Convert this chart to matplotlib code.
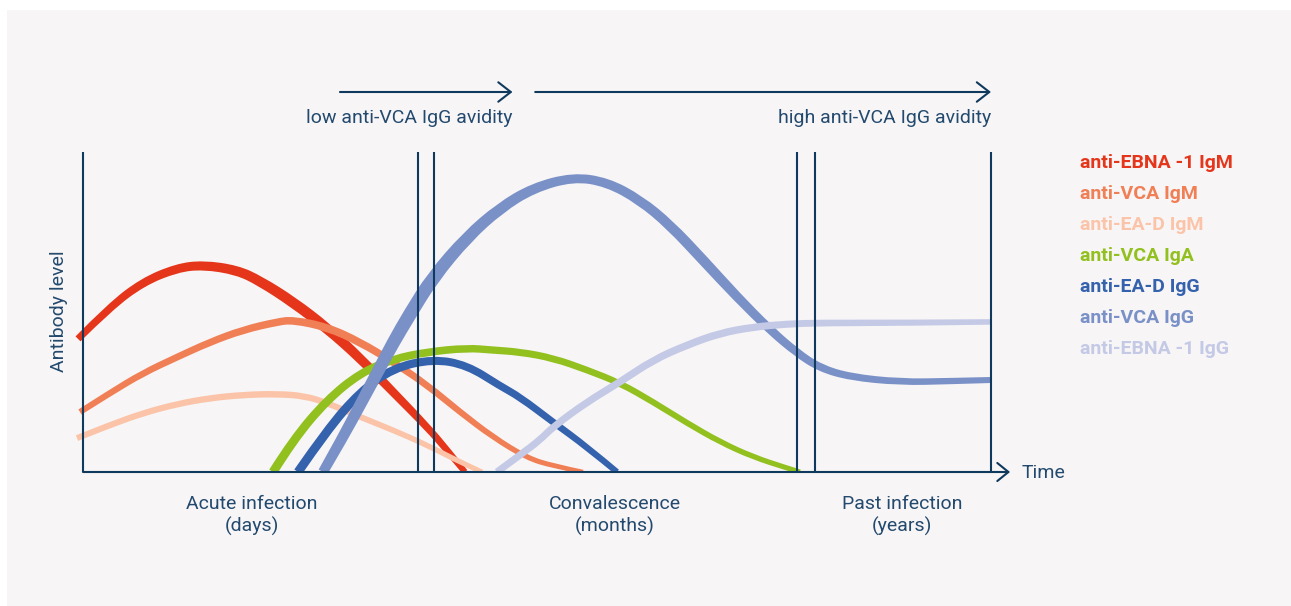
"""
EBV antibody kinetics chart (antibody level vs. time through infection phases)
"""

import numpy as np
import matplotlib
matplotlib.use("Agg")
import matplotlib.pyplot as plt
from matplotlib.patches import Rectangle, FancyArrowPatch, PathPatch
from matplotlib.path import Path

plt.rcParams['font.family'] = ['Roboto', 'DejaVu Sans']

# ---- data (time in arbitrary units 0..100, level 0..100) ----
series_names = ['anti-EBNA -1 IgM', 'anti-VCA IgM', 'anti-EA-D IgM', 'anti-VCA IgA',
                'anti-EA-D IgG', 'anti-VCA IgG', 'anti-EBNA -1 IgG']

ebna_igm_t = [-0.55, 2.97, 6.61, 10.35, 13.22, 16.96, 19.49, 23.13, 26.87, 30.51, 34.14, 37.89, 40.09, 42.07]
ebna_igm_v = [41.6, 51.6, 59.4, 63.75, 64.7, 63.1, 59.7, 53.1, 45.0, 35.6, 25.0, 14.1, 6.9, 0.0]

vca_igm_t = [-0.33, 2.97, 6.61, 10.35, 13.99, 17.62, 21.37, 23.13, 26.87, 30.51, 34.14, 37.89, 41.52, 45.15, 48.90, 51.76, 55.07]
vca_igm_v = [18.75, 24.7, 30.9, 35.9, 40.6, 44.4, 46.9, 47.5, 45.3, 40.6, 34.4, 27.2, 18.75, 10.9, 4.4, 1.9, 0.0]

ead_igm_t = [-0.66, 2.97, 6.61, 10.35, 13.99, 17.62, 21.37, 24.45, 26.87, 30.51, 34.14, 37.89, 41.52, 43.94]
ead_igm_v = [10.6, 14.7, 18.4, 21.25, 23.1, 24.1, 24.4, 23.75, 21.6, 17.2, 13.1, 8.4, 3.1, 0.0]

vca_iga_t = [20.93, 23.13, 26.87, 30.51, 34.14, 37.89, 42.29, 45.15, 48.13, 51.76, 55.51, 59.14, 62.78, 66.52, 70.15, 73.79, 77.53, 78.96]
vca_iga_v = [0.0, 10.0, 22.5, 30.9, 35.3, 37.5, 38.75, 38.1, 37.5, 35.6, 31.9, 27.8, 21.9, 15.3, 9.4, 4.7, 1.25, 0.0]

ead_igg_t = [23.68, 26.87, 30.51, 34.14, 38.55, 42.29, 45.93, 48.13, 51.76, 55.51, 58.81]
ead_igg_v = [0.0, 13.1, 25.0, 32.5, 35.3, 33.4, 26.9, 23.4, 15.6, 7.8, 0.0]

vca_igg_t = [26.43, 28.63, 30.51, 32.38, 34.14, 36.01, 38.55, 42.29, 45.93, 49.56, 53.96, 57.71,
             61.34, 64.65, 68.28, 72.03, 75.66, 78.63, 81.17, 84.47, 89.98, 95.48, 100.0]
vca_igg_v = [0.0, 10.9, 20.9, 30.9, 40.3, 49.4, 60.9, 73.4, 82.5, 88.75, 92.2, 90.6,
             85.0, 77.2, 66.25, 54.7, 44.4, 37.2, 32.5, 29.7, 28.1, 28.4, 28.75]

ebna_igg_t = [45.59, 48.13, 50.33, 51.76, 55.51, 59.14, 62.78, 66.52, 70.15, 73.79, 77.53, 81.17, 89.98, 100.0]
ebna_igg_v = [0.0, 5.3, 10.0, 14.1, 21.9, 28.1, 35.0, 39.7, 43.4, 45.3, 46.25, 46.6, 46.6, 46.9]

series_t = [ebna_igm_t, vca_igm_t, ead_igm_t, vca_iga_t, ead_igg_t, vca_igg_t, ebna_igg_t]
series_v = [ebna_igm_v, vca_igm_v, ead_igm_v, vca_iga_v, ead_igg_v, vca_igg_v, ebna_igg_v]

phase_bounds = [36.89, 38.66, 78.63, 80.62, 100.0]
phase_labels = ['Acute infection\n(days)', 'Convalescence\n(months)', 'Past infection\n(years)']
phase_label_t = [18.6, 58.6, 90.2]

# ---- styles ----
colors = ['#e5361b', '#f07f56', '#fbc4a8', '#92c01f', '#3462ad', '#7a91c8', '#c4c9e6']
# ribbon width (px) along the curve: (fraction of length, width)
tapers = [
    ([0, 0.55, 1], [7, 11, 6]),
    ([0, 0.5, 1], [6, 8, 4.5]),
    ([0, 0.5, 1], [6, 6.5, 5]),
    ([0, 0.4, 1], [9, 7.5, 5]),
    ([0, 0.4, 1], [9, 8.5, 6]),
    ([0, 0.22, 0.45, 0.62, 0.85, 1], [10, 14, 9, 10.5, 7, 6]),
    ([0, 0.5, 1], [7, 7.5, 5.5]),
]
navy = '#0f3a5e'
text_navy = '#234a6e'
bg = '#f7f5f6'
fs = 14

fig = plt.figure(figsize=(12.91, 6.06), dpi=100)
fig.patch.set_facecolor('white')
fig.patches.append(Rectangle((7 / 1291, 0), 1, 596 / 606, transform=fig.transFigure,
                             facecolor=bg, edgecolor='none', zorder=0))

ax = fig.add_axes([0, 0, 1, 1])
ax.set_zorder(1)
ax.set_facecolor('none')
ax.set_xlim(-9.141, 133.04)
ax.set_ylim(-41.875, 147.5)
ax.axis('off')


def smooth_edge(pts):
    # quadratic bezier pieces using the points as control points
    verts, codes = [], []
    n = len(pts)
    for i in range(1, n - 1):
        end = pts[i + 1] if i == n - 2 else (pts[i] + pts[i + 1]) / 2
        verts += [pts[i], end]
        codes += [Path.CURVE3, Path.CURVE3]
    if n == 2:
        verts, codes = [pts[1]], [Path.LINETO]
    return verts, codes


def ribbon(ax, t, v, taper, color, clip):
    """draw a curve as a filled band whose width changes along its length"""
    xy = ax.transData.transform(np.column_stack([t, v]))
    d = np.gradient(xy, axis=0)
    n = np.column_stack([-d[:, 1], d[:, 0]])
    n /= np.linalg.norm(n, axis=1)[:, None]
    seg = np.r_[0, np.cumsum(np.linalg.norm(np.diff(xy, axis=0), axis=1))]
    w = np.interp(seg / seg[-1], taper[0], taper[1]) / 2
    inv = ax.transData.inverted()
    upper = inv.transform(xy + n * w[:, None])
    lower = inv.transform((xy - n * w[:, None])[::-1])

    verts, codes = [upper[0]], [Path.MOVETO]
    vv, cc = smooth_edge(upper)
    verts += vv
    codes += cc
    verts.append(lower[0])
    codes.append(Path.LINETO)
    vv, cc = smooth_edge(lower)
    verts += vv
    codes += cc
    verts.append(upper[0])
    codes.append(Path.CLOSEPOLY)
    patch = PathPatch(Path(verts, codes), facecolor=color, edgecolor='none', zorder=3)
    ax.add_patch(patch)
    patch.set_clip_path(clip)


clip = Rectangle((-20, 0), 140, 120, transform=ax.transData)
for t, v, c, tp in zip(series_t, series_v, colors, tapers):
    ribbon(ax, t, v, tp, c, clip)

# axes frame (drawn over the curves)
ax.plot([0, 0], [0, 100], color=navy, lw=1.5, zorder=4, solid_capstyle='butt')
for b in phase_bounds:
    ax.plot([b, b], [0, 100], color=navy, lw=1.5, zorder=4, solid_capstyle='butt')
ax.add_patch(FancyArrowPatch((0, 0), (102.1, 0), arrowstyle='->,head_length=8,head_width=6.5',
                             mutation_scale=1, lw=1.5, color=navy, shrinkA=0, shrinkB=0, zorder=4))
ax.text(103.4, -0.3, 'Time', color=text_navy, fontsize=fs, ha='left', va='center')

# avidity arrows
ax.add_patch(FancyArrowPatch((28.3, 118.75), (47.3, 118.75), arrowstyle='->,head_length=9,head_width=7',
                             mutation_scale=1, lw=1.5, color=navy, shrinkA=0, shrinkB=0))
ax.add_patch(FancyArrowPatch((49.8, 118.75), (100.0, 118.75), arrowstyle='->,head_length=9,head_width=7',
                             mutation_scale=1, lw=1.5, color=navy, shrinkA=0, shrinkB=0))
ax.text(47.25, 110.6, 'low anti-VCA IgG avidity', color=text_navy, fontsize=fs, ha='right', va='center')
ax.text(100.0, 110.6, 'high anti-VCA IgG avidity', color=text_navy, fontsize=fs, ha='right', va='center')

ax.text(-2.6, 50.3, 'Antibody level', color=text_navy, fontsize=fs, rotation=90, ha='center', va='center')

for lab, tx in zip(phase_labels, phase_label_t):
    ax.text(tx, -13.7, lab, color=text_navy, fontsize=fs, ha='center', va='center',
            multialignment='center', linespacing=1.27)

# legend
for i, (name, c) in enumerate(zip(series_names, colors)):
    ax.text(109.8, 96.56 - i * 9.6875, name, color=c, fontsize=fs, fontweight='bold',
            ha='left', va='center')

fig.savefig('out.png', dpi=100)
